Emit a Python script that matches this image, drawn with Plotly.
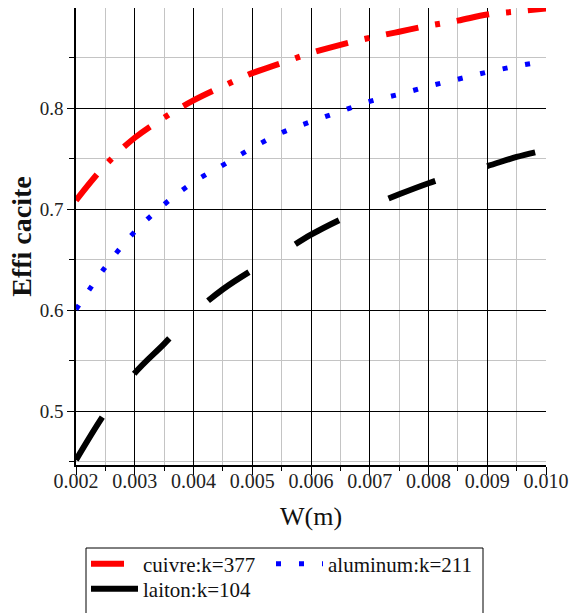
import plotly.graph_objects as go

# Fin thickness W (m)
W = [0.0020, 0.0025, 0.0030, 0.0035, 0.0040, 0.0045, 0.0050, 0.0055, 0.0060,
     0.0065, 0.0070, 0.0075, 0.0080, 0.0085, 0.0090, 0.0095, 0.0100]

# Fin efficiency for each material
eff_cuivre = [0.709, 0.744, 0.771, 0.791, 0.808, 0.822, 0.835, 0.845, 0.855,
              0.863, 0.870, 0.876, 0.882, 0.887, 0.893, 0.896, 0.899]
eff_aluminum = [0.601, 0.643, 0.678, 0.705, 0.727, 0.744, 0.761, 0.776, 0.787,
                0.797, 0.807, 0.814, 0.822, 0.829, 0.836, 0.842, 0.847]
eff_laiton = [0.452, 0.499, 0.538, 0.567, 0.597, 0.621, 0.640, 0.657, 0.675,
              0.690, 0.703, 0.715, 0.726, 0.735, 0.743, 0.752, 0.759]

names = ["cuivre:k=377", "aluminum:k=211", "laiton:k=104"]

x_ticks = [0.002, 0.003, 0.004, 0.005, 0.006, 0.007, 0.008, 0.009, 0.010]
x_ticklabels = ["0.002", "0.003", "0.004", "0.005", "0.006", "0.007", "0.008", "0.009", "0.010"]
y_ticks = [0.5, 0.6, 0.7, 0.8]
y_ticklabels = ["0.5", "0.6", "0.7", "0.8"]

SERIF = "Liberation Serif"

# plot area in pixels (used to place the legend rows and their frame)
PLOT_L, PLOT_W, PLOT_T, PLOT_B = 76, 470, 8, 465
PLOT_H = PLOT_B - PLOT_T


def paper_y(py):
    return -(py - PLOT_B) / PLOT_H


fig = go.Figure()
fig.add_trace(go.Scatter(
    x=W, y=eff_cuivre, name=names[0], mode="lines", legend="legend", legendwidth=123,
    line=dict(color="#ff0000", width=6, dash="33px,17px,5px,17px", shape="spline", smoothing=1),
))
fig.add_trace(go.Scatter(
    x=W, y=eff_aluminum, name=names[1], mode="lines", legend="legend",
    line=dict(color="#0000ff", width=5, dash="5px,18px", shape="spline", smoothing=1),
))
fig.add_trace(go.Scatter(
    x=W, y=eff_laiton, name=names[2], mode="lines", legend="legend2",
    line=dict(color="#000000", width=6, dash="50px,54px", shape="spline", smoothing=1),
))

legend_style = dict(
    orientation="h", x=(86 - PLOT_L) / PLOT_W, xanchor="left", yanchor="top",
    borderwidth=0, bgcolor="rgba(0,0,0,0)",
    font=dict(family=SERIF, size=21, color="#111111"),
    tracegroupgap=0, itemwidth=47,
)

fig.update_layout(
    width=573, height=613,
    margin=dict(l=PLOT_L, r=573 - PLOT_L - PLOT_W, t=PLOT_T, b=613 - PLOT_B, autoexpand=False),
    paper_bgcolor="white", plot_bgcolor="white",
    font=dict(family=SERIF, color="#222222"),
    showlegend=True,
    legend=dict(legend_style, y=paper_y(543.5)),
    legend2=dict(legend_style, y=paper_y(568.5)),
    # frame around the legend
    shapes=[dict(type="rect", xref="paper", yref="paper",
                 x0=(86 - PLOT_L) / PLOT_W, x1=(483 - PLOT_L) / PLOT_W,
                 y0=paper_y(625), y1=paper_y(548),
                 line=dict(color="black", width=1), fillcolor="rgba(0,0,0,0)", layer="below")],
)

fig.update_xaxes(
    range=[0.002, 0.010], tickvals=x_ticks, ticktext=x_ticklabels,
    showgrid=True, gridcolor="black", gridwidth=1,
    ticks="outside", ticklen=8, tickcolor="black", tickwidth=1, ticklabelstandoff=-11,
    minor=dict(dtick=0.0005, tick0=0.002, showgrid=True, gridcolor="#c4c4c4", gridwidth=1,
               ticks="outside", ticklen=4, tickcolor="black"),
    showline=True, linecolor="black", linewidth=1.5, zeroline=False, automargin=False,
    tickfont=dict(family=SERIF, size=20, color="#222222"),
    title=dict(text="W(m)", font=dict(family=SERIF, size=26, color="#111111"), standoff=16),
)

fig.update_yaxes(
    range=[0.447, 0.8995], tickvals=y_ticks, ticktext=y_ticklabels,
    showgrid=True, gridcolor="black", gridwidth=1,
    ticks="outside", ticklen=7, tickcolor="black", tickwidth=1,
    minor=dict(dtick=0.05, tick0=0.45, showgrid=True, gridcolor="#c4c4c4", gridwidth=1,
               ticks="outside", ticklen=5, tickcolor="black"),
    showline=True, linecolor="black", linewidth=1.5, zeroline=False, automargin=False,
    tickfont=dict(family=SERIF, size=19, color="#222222"),
    title=dict(text="<b>Effi cacite</b>", font=dict(family=SERIF, size=28, color="#111111"), standoff=0),
)

fig.write_html("out.html")
